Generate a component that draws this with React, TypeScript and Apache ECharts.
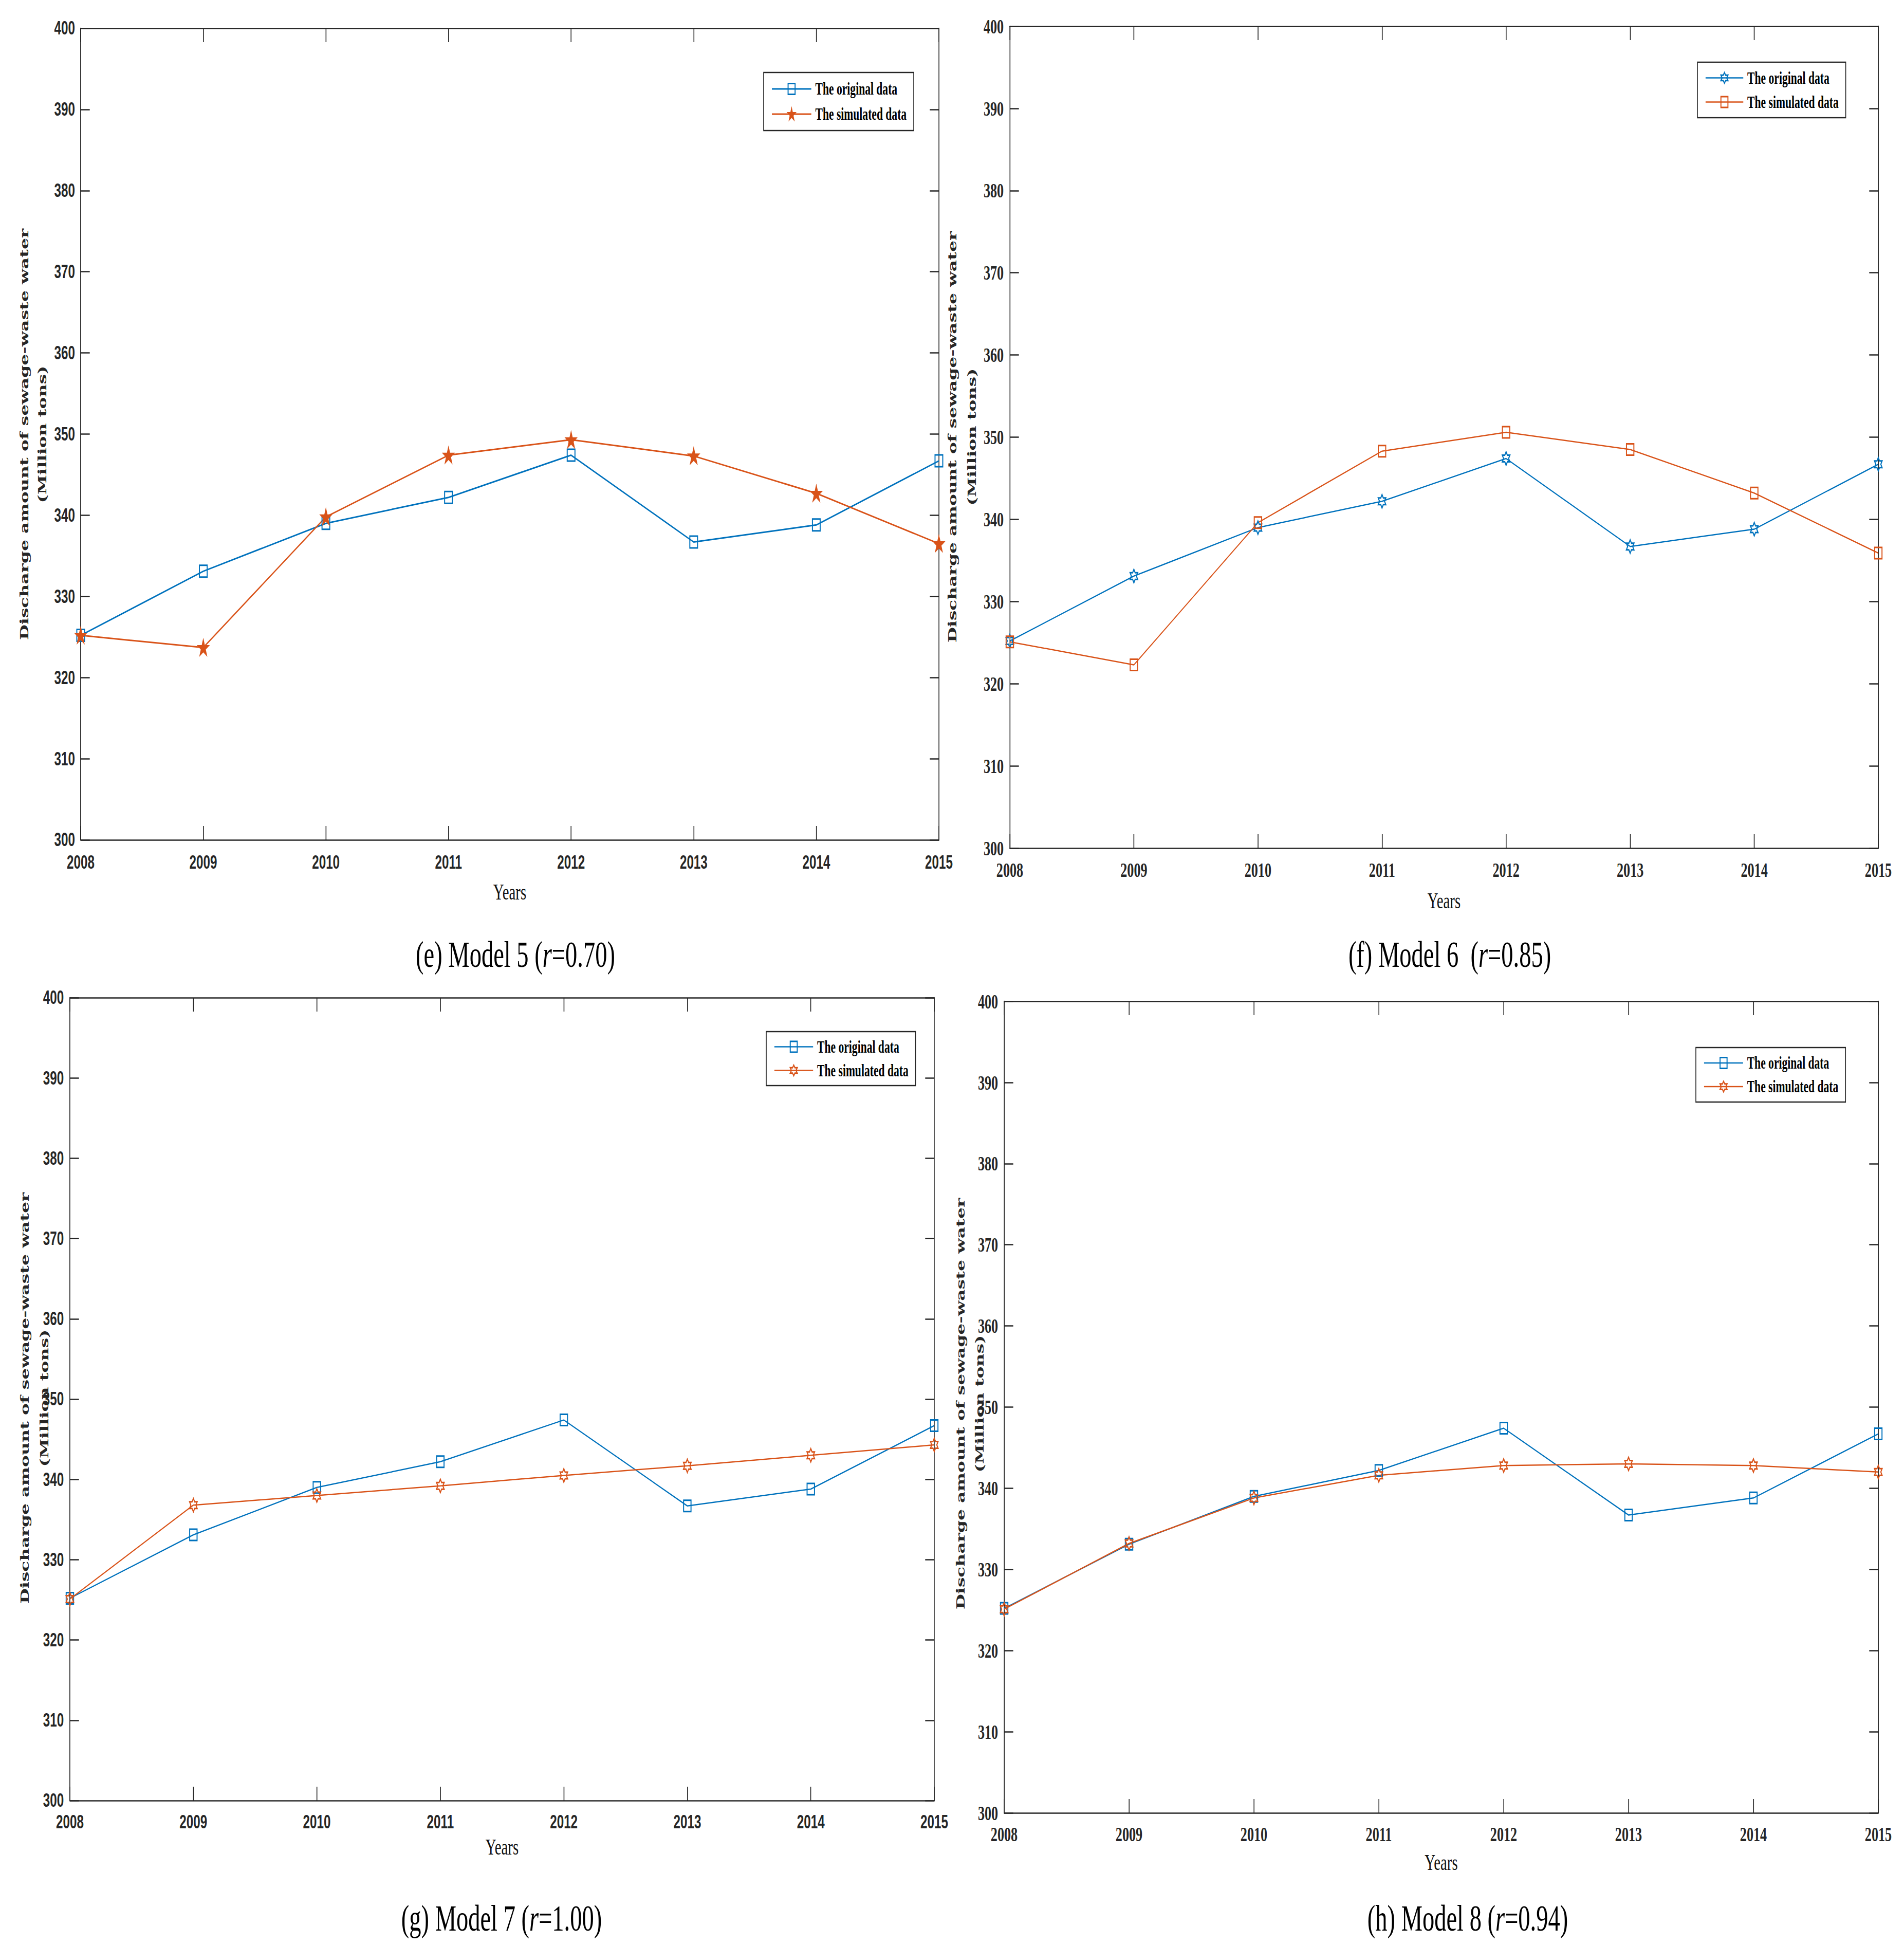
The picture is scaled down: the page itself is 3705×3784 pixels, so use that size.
import React, { useEffect, useRef } from "react";
import * as echarts from "echarts";

// ---------------- data ----------------
const years = ["2008", "2009", "2010", "2011", "2012", "2013", "2014", "2015"];
const originalData = [325.2, 333.1, 339.0, 342.2, 347.4, 336.7, 338.8, 346.7];
const simulatedE = [325.2, 323.7, 339.8, 347.4, 349.3, 347.3, 342.7, 336.5];
const simulatedF = [325.1, 322.3, 339.6, 348.3, 350.6, 348.5, 343.2, 335.9];
const simulatedG = [325.1, 336.8, 338.0, 339.2, 340.5, 341.7, 343.0, 344.3];
const simulatedH = [325.1, 333.2, 338.8, 341.6, 342.8, 343.0, 342.8, 342.0];
const yMin = 300;
const yMax = 400;
const yStep = 10;
const legendLabels = ["The original data", "The simulated data"];
const yTitle = ["Discharge amount of sewage-waste water", "(Million tons)"];
const xTitle = "Years";
const captionParts = [
  ["(e) Model 5 (", "r", "=0.70)"],
  ["(f) Model 6  (", "r", "=0.85)"],
  ["(g) Model 7 (", "r", "=1.00)"],
  ["(h) Model 8 (", "r", "=0.94)"],
];

// ---------------- look ----------------
const SX = 0.655; // the figure is squeezed horizontally
const W = 3705;
const H = 3784;
const WU = W / SX;
const BLUE = "#0072BD";
const ORANGE = "#D95319";
const AXIS = "#262626";
const HEX =
  "path://M50,0 L64.43,25 L93.3,25 L78.87,50 L93.3,75 L64.43,75 L50,100 L35.57,75 L6.7,75 L21.13,50 L6.7,25 L35.57,25 Z";
const STAR =
  "path://M50,0 L61.23,34.55 L97.55,34.55 L68.16,55.9 L79.39,90.45 L50,69.1 L20.61,90.45 L31.84,55.9 L2.45,34.55 L38.77,34.55 Z";

const SANS = '"Liberation Sans", Arial, sans-serif';
const SERIF = '"Liberation Serif", "Times New Roman", serif';
const DSERIF = '"DejaVu Serif", serif';

const panels = [
  {
    sim: simulatedE,
    box: { L: 157, R: 1827, T: 55, B: 1634 },
    tick: { family: SANS, size: 37 },
    xMargin: 25, yMargin: 17,
    orig: { sym: "rect", size: 23, fill: false }, simS: { sym: STAR, size: 30, fill: true },
    lw: 3,
    legend: { L: 1486, T: 141, pad: 15.5, gap: 16, iw: 117 },
    title: { x1: 47.5, x2: 82.5, y: 845 },
    years: { y: 1735 },
    cap: { x: 1003, y: 1857 },
  },
  {
    sim: simulatedF,
    box: { L: 1965, R: 3655, T: 51, B: 1650 },
    tick: { family: SERIF, size: 40 },
    xMargin: 22, yMargin: 18,
    orig: { sym: HEX, size: 26, fill: false }, simS: { sym: "rect", size: 22, fill: false },
    lw: 2.5,
    legend: { L: 3303, T: 121, pad: 14, gap: 14, iw: 112 },
    title: { x1: 1853.5, x2: 1891, y: 850 },
    years: { y: 1752 },
    cap: { x: 2821, y: 1857 },
  },
  {
    sim: simulatedG,
    box: { L: 136, R: 1818, T: 1941, B: 3503 },
    tick: { family: SANS, size: 37 },
    xMargin: 23, yMargin: 18,
    orig: { sym: "rect", size: 22, fill: false }, simS: { sym: HEX, size: 26, fill: false },
    lw: 2.5,
    legend: { L: 1491, T: 2007, pad: 13, gap: 13, iw: 115 },
    title: { x1: 48, x2: 86, y: 2720 },
    years: { y: 3593 },
    cap: { x: 976, y: 3732 },
  },
  {
    sim: simulatedH,
    box: { L: 1954, R: 3655, T: 1948, B: 3527 },
    tick: { family: SERIF, size: 40 },
    xMargin: 21, yMargin: 18,
    orig: { sym: "rect", size: 22, fill: false }, simS: { sym: HEX, size: 26, fill: false },
    lw: 2.5,
    legend: { L: 3300, T: 2038, pad: 13.5, gap: 13, iw: 116 },
    title: { x1: 1869, x2: 1906, y: 2731 },
    years: { y: 3623 },
    cap: { x: 2856, y: 3732 },
  },
];

function buildOption() {
  const grid: any[] = [];
  const xAxis: any[] = [];
  const yAxis: any[] = [];
  const series: any[] = [];
  const legend: any[] = [];
  const graphic: any[] = [];

  panels.forEach((p, i) => {
    const { L, R, T, B } = p.box;
    grid.push({ left: L / SX, top: T, width: (R - L) / SX, height: B - T, containLabel: false });
    const line = { show: true, onZero: false, lineStyle: { color: AXIS, width: 2.5 } };
    const tick = { show: true, inside: true, length: 27, lineStyle: { color: AXIS, width: 2.5 } };
    const lab = {
      color: AXIS,
      fontFamily: p.tick.family,
      fontSize: p.tick.size,
      fontWeight: "bold",
    };
    xAxis.push({
      gridIndex: i, type: "category", data: years, boundaryGap: false, position: "bottom",
      axisLine: line, axisTick: { ...tick, interval: 0 },
      axisLabel: { ...lab, interval: 0, margin: p.xMargin },
      splitLine: { show: false },
    });
    xAxis.push({
      gridIndex: i, type: "category", data: years, boundaryGap: false, position: "top",
      axisLine: line, axisTick: { ...tick, interval: 0 }, axisLabel: { show: false },
      splitLine: { show: false },
    });
    yAxis.push({
      gridIndex: i, type: "value", min: yMin, max: yMax, interval: yStep, position: "left",
      axisLine: line, axisTick: tick, axisLabel: { ...lab, margin: p.yMargin },
      splitLine: { show: false },
    });
    yAxis.push({
      gridIndex: i, type: "value", min: yMin, max: yMax, interval: yStep, position: "right",
      axisLine: line, axisTick: tick, axisLabel: { show: false },
      splitLine: { show: false },
    });

    const mk = (name: string, data: number[], color: string, s: { sym: string; size: number; fill: boolean }) => ({
      name,
      type: "line",
      xAxisIndex: i * 2,
      yAxisIndex: i * 2,
      data,
      symbol: s.sym,
      symbolSize: s.size,
      symbolKeepAspect: true,
      showSymbol: true,
      showAllSymbol: true,
      clip: false,
      lineStyle: { color, width: p.lw },
      itemStyle: { color: s.fill ? color : "rgba(0,0,0,0)", borderColor: color, borderWidth: 3 },
      emphasis: { disabled: true },
    });
    const nO = "orig" + i;
    const nS = "sim" + i;
    series.push(mk(nO, originalData, BLUE, p.orig));
    series.push(mk(nS, p.sim, ORANGE, p.simS));

    legend.push({
      data: [nO, nS],
      orient: "vertical",
      left: p.legend.L / SX,
      top: p.legend.T,
      padding: [p.legend.pad, 21, p.legend.pad, 23],
      itemGap: p.legend.gap,
      itemWidth: p.legend.iw,
      itemHeight: 26,
      backgroundColor: "#fff",
      borderColor: AXIS,
      borderWidth: 2.5,
      borderRadius: 0,
      selectedMode: false,
      itemStyle: { borderWidth: 3 },
      lineStyle: { width: p.lw },
      formatter: (name: string) => (name.startsWith("orig") ? legendLabels[0] : legendLabels[1]),
      textStyle: {
        fontFamily: SERIF, fontWeight: "bold", fontSize: 33, color: "#000",
        padding: [0, 0, 0, 7],
      },
    });

    graphic.push({
      type: "text", x: p.title.x1 / SX, y: p.title.y, rotation: Math.PI / 2, silent: true,
      style: { text: yTitle[0], fontFamily: DSERIF, fontWeight: "bold", fontSize: 34.5, fill: AXIS, align: "center", verticalAlign: "middle" },
    });
    graphic.push({
      type: "text", x: p.title.x2 / SX, y: p.title.y, rotation: Math.PI / 2, silent: true,
      style: { text: yTitle[1], fontFamily: DSERIF, fontWeight: "bold", fontSize: 34.5, fill: AXIS, align: "center", verticalAlign: "middle" },
    });
    graphic.push({
      type: "text", x: (L + R) / 2 / SX, y: p.years.y, silent: true,
      style: { text: xTitle, fontFamily: SERIF, fontSize: 44, fill: "#111", align: "center", verticalAlign: "middle" },
    });
    const c = captionParts[i];
    graphic.push({
      type: "text", x: p.cap.x / SX, y: p.cap.y, silent: true,
      style: {
        text: `{n|${c[0]}}{i|${c[1]}}{n|${c[2]}}`,
        align: "center", verticalAlign: "middle",
        fontFamily: SERIF, fontSize: 71, fill: "#000",
        rich: {
          n: { fontFamily: SERIF, fontSize: 71, fill: "#000" },
          i: { fontFamily: SERIF, fontSize: 71, fontStyle: "italic", fill: "#000" },
        },
      },
    });
  });

  return {
    animation: false,
    backgroundColor: "#fff",
    grid,
    xAxis,
    yAxis,
    series,
    legend,
    graphic,
  };
}

export default function App() {
  const ref = useRef<HTMLDivElement>(null);
  useEffect(() => {
    document.body.style.margin = "0";
    const chart = echarts.init(ref.current!, undefined, { renderer: "svg", width: WU, height: H });
    chart.setOption(buildOption() as any);
    return () => chart.dispose();
  }, []);
  return (
    <div style={{ position: "absolute", left: 0, top: 0, width: W, height: H, overflow: "hidden", background: "#fff" }}>
      <div
        ref={ref}
        style={{ width: WU, height: H, transform: `scaleX(${SX})`, transformOrigin: "0 0" }}
      />
    </div>
  );
}
